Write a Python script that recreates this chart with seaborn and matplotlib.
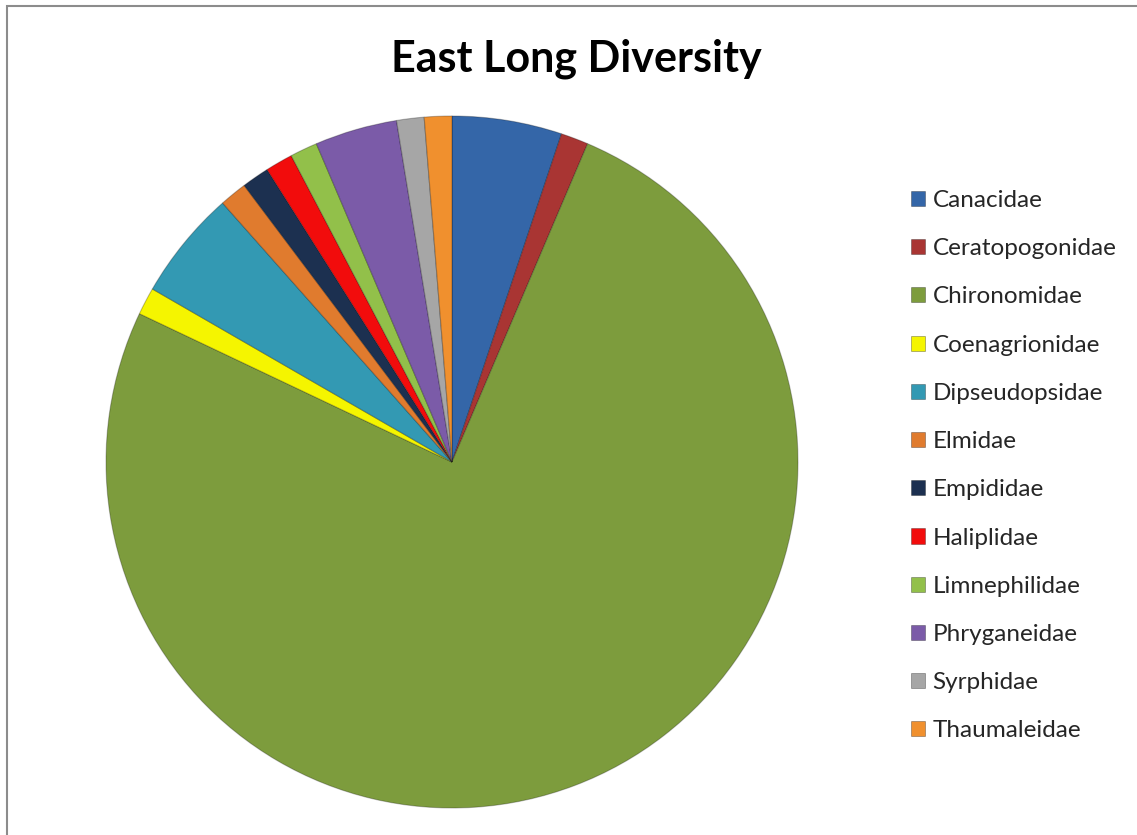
import matplotlib
matplotlib.use("Agg")
import matplotlib.pyplot as plt
import seaborn as sns
from matplotlib.patches import Patch, Rectangle

# data (counts per family)
families = ['Canacidae', 'Ceratopogonidae', 'Chironomidae', 'Coenagrionidae',
            'Dipseudopsidae', 'Elmidae', 'Empididae', 'Haliplidae',
            'Limnephilidae', 'Phryganeidae', 'Syrphidae', 'Thaumaleidae']
counts = [4, 1, 59, 1, 4, 1, 1, 1, 1, 3, 1, 1]
colors = ['#3466A8', '#A93533', '#7D9C3D', '#F5F500', '#3399B3', '#E07B2E',
          '#1C3050', '#F20C0C', '#92C04A', '#7B5BA8', '#A6A6A6', '#F0902E']

sns.set_theme(style="white")
plt.rcParams['font.family'] = ['Lato', 'DejaVu Sans']

W, H = 1137, 835
fig = plt.figure(figsize=(W / 100, H / 100), dpi=100)
fig.patch.set_facecolor('white')

# pie axes: centre (452, 462) px, radius 346 px
cx, cy, r = 452, 462, 346
ax = fig.add_axes([(cx - r) / W, (H - cy - r) / H, 2 * r / W, 2 * r / H])
palette = sns.color_palette(colors)
wedges, _ = ax.pie(counts, colors=palette, startangle=90, counterclock=False,
                   radius=1.0,
                   wedgeprops=dict(edgecolor='#00000040', linewidth=0.8))
ax.set_xlim(-1, 1)
ax.set_ylim(-1, 1)
ax.set_aspect('equal')
ax.axis('off')

fig.text(576 / W, 1 - 59 / H, 'East Long Diversity', ha='center', va='center',
         fontsize=31, fontweight='bold', color='black')

handles = [Patch(facecolor=c, edgecolor='#00000055', linewidth=0.6) for c in palette]
leg = fig.legend(handles, families, loc='upper left',
                 bbox_to_anchor=(911 / W, 1 - 190 / H), frameon=False,
                 fontsize=17.5, handlelength=0.58, handleheight=0.58,
                 handletextpad=0.3, labelspacing=1.12, borderaxespad=0,
                 borderpad=0)

# chart-area border (only left and top visible in the crop)
fig.add_artist(Rectangle((7 / W, -0.1), 1.2, 1 - 6 / H + 0.1,
                         transform=fig.transFigure, fill=False,
                         edgecolor='#8C8C8C', linewidth=1.5))

fig.savefig('out.png', dpi=100)
